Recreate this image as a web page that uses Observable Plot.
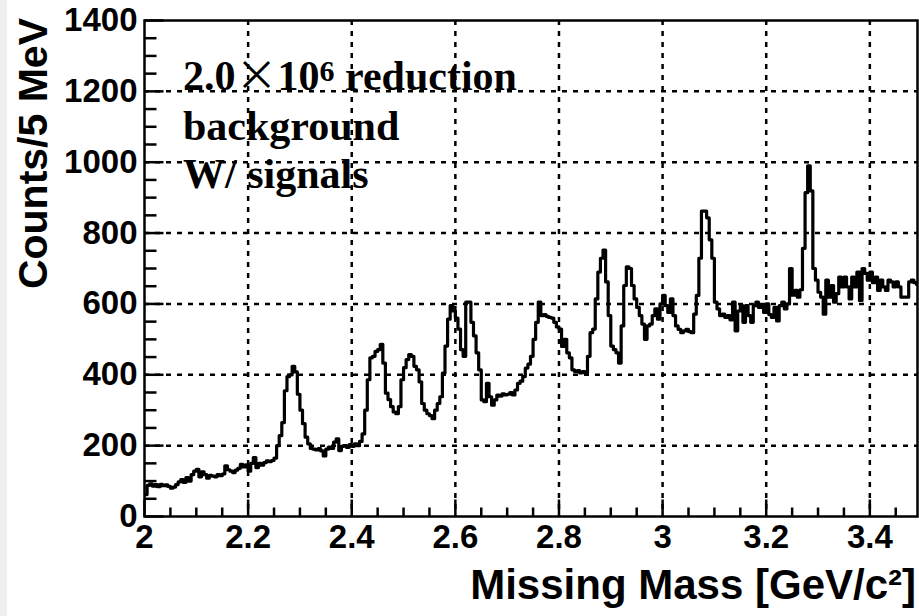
<!DOCTYPE html>
<html><head><meta charset="utf-8">
<script src="https://cdn.jsdelivr.net/npm/d3@7"></script>
<script src="https://cdn.jsdelivr.net/npm/@observablehq/plot@0.6"></script>
<style>
body{margin:0;background:#fff;}
#chart{position:relative;width:919px;height:616px;background:linear-gradient(to right,#efefef 0,#efefef 7px,#fff 7px);overflow:hidden}
#chart svg{display:block}
</style></head><body><div id="chart"></div>
<script>
// Histogram: 5 MeV bins starting at 2.000 GeV/c^2
const binStart = 2.0;
const binWidth = 0.005;
const counts = [
  62, 88, 92, 86, 90, 84, 91, 87, 89, 85,          // 2.00
  80, 83, 90, 98, 104, 96, 110, 100, 118, 128,     // 2.05
  133, 112, 126, 118, 108, 116, 114, 112, 118, 115,// 2.10
  120, 143, 132, 128, 124, 131, 136, 147, 140, 146,// 2.15
  128, 150, 166, 138, 150, 145, 152, 157, 155, 158,// 2.20
  165, 200, 228, 265, 355, 395, 400, 424, 408, 345,// 2.25
  300, 262, 224, 205, 192, 190, 188, 192, 185, 171,// 2.30
  190, 196, 192, 210, 219, 186, 198, 200, 195, 203,// 2.35
  198, 205, 200, 212, 233, 300, 386, 448, 452, 466,// 2.40
  471, 486, 433, 348, 330, 310, 295, 290, 310, 386,// 2.45
  420, 443, 457, 452, 424, 414, 380, 319, 300, 290,// 2.50
  285, 276, 300, 319, 338, 405, 481, 557, 595, 580,// 2.55
  560, 529, 471, 452, 605, 605, 548, 510, 462, 414,// 2.60
  329, 324, 376, 338, 314, 329, 343, 340, 346, 343,// 2.65
  345, 350, 343, 357, 376, 382, 395, 419, 430, 452,// 2.70
  500, 548, 605, 567, 570, 565, 562, 560, 548, 535,// 2.75
  529, 480, 500, 462, 448, 414, 409, 412, 405, 409,// 2.80
  405, 452, 519, 529, 614, 690, 729, 752, 662, 567,// 2.85
  481, 471, 462, 433, 538, 652, 705, 700, 652, 614,// 2.90
  590, 567, 543, 500, 538, 543, 567, 586, 557, 600,// 2.95
  624, 595, 576, 614, 567, 538, 528, 519, 524, 528,// 3.00
  522, 519, 571, 624, 729, 862, 862, 843, 781, 729,// 3.05
  605, 586, 567, 571, 562, 567, 555, 605, 524, 580,// 3.10
  595, 548, 595, 567, 548, 595, 605, 590, 595, 576,// 3.15
  600, 570, 562, 590, 552, 595, 605, 586, 600, 700,// 3.20
  625, 638, 619, 640, 757, 914, 990, 919, 700, 667,// 3.25
  633, 619, 571, 667, 619, 652, 605, 629, 676, 648,// 3.30
  676, 648, 614, 676, 648, 690, 610, 700, 686, 667,// 3.35
  690, 660, 676, 638, 667, 648, 638, 667, 662, 648,// 3.40
  662, 648, 619, 619, 619, 662, 667, 660, 655, 660 // 3.45
];

const xMajorTicks = [2, 2.2, 2.4, 2.6, 2.8, 3, 3.2, 3.4];
const xTickLabels = ["2", "2.2", "2.4", "2.6", "2.8", "3", "3.2", "3.4"];
const xMinorTicks = [2.05, 2.1, 2.15, 2.25, 2.3, 2.35, 2.45, 2.5, 2.55, 2.65, 2.7, 2.75,
                     2.85, 2.9, 2.95, 3.05, 3.1, 3.15, 3.25, 3.3, 3.35, 3.45];
const yMajorTicks = [0, 200, 400, 600, 800, 1000, 1200, 1400];
const yTickLabels = ["0", "200", "400", "600", "800", "1000", "1200", "1400"];
const yMinorTicks = [50, 100, 150, 250, 300, 350, 450, 500, 550, 650, 700, 750,
                     850, 900, 950, 1050, 1100, 1150, 1250, 1300, 1350];

const xLabel = "Missing Mass [GeV/c²]";
const yLabel = "Counts/5 MeV";
const annotationLines = ["background", "W/ signals"];

const pts = counts.map((c, i) => ({m: binStart + i * binWidth, c}));
pts.push({m: binStart + counts.length * binWidth, c: counts[counts.length - 1]});

const xLab = new Map(xMajorTicks.map((v, i) => [v, xTickLabels[i]]));
const yLab = new Map(yMajorTicks.map((v, i) => [v, yTickLabels[i]]));

const gridStyle = {stroke: "black", strokeOpacity: 1, strokeWidth: 2.5, strokeDasharray: "5,6"};
const tickFont = {fontSize: 33, fontWeight: "bold"};

// inward tick marks as short links, pixel lengths converted to data extents
const pxPerCount = 496 / 1400, pxPerGeV = 773 / 1.492;
const tickMarks = [
  ...xMinorTicks.map(v => ({x1: v, x2: v, y1: 0, y2: 9 / pxPerCount})),
  ...xMajorTicks.map(v => ({x1: v, x2: v, y1: 0, y2: 17 / pxPerCount})),
  ...yMinorTicks.map(v => ({x1: 2, x2: 2 + 12 / pxPerGeV, y1: v, y2: v})),
  ...yMajorTicks.map(v => ({x1: 2, x2: 2 + 19 / pxPerGeV, y1: v, y2: v}))
];

const plot = Plot.plot({
  width: 919, height: 616,
  marginLeft: 144, marginRight: 2, marginTop: 20, marginBottom: 100,
  style: {fontFamily: "'Liberation Sans', Arial, sans-serif", background: "transparent", color: "black", overflow: "visible"},
  x: {domain: [2, 3.492], label: null},
  y: {domain: [0, 1400], label: null},
  marks: [
    Plot.gridX(xMajorTicks.filter(d => d > 2), gridStyle),
    Plot.gridY(yMajorTicks.filter(d => d > 0 && d < 1400), gridStyle),
    Plot.line(pts, {x: "m", y: "c", curve: "step-after", stroke: "black", strokeWidth: 3.2, clip: true}),
    Plot.link(tickMarks, {x1: "x1", x2: "x2", y1: "y1", y2: "y2", stroke: "black", strokeWidth: 2.5}),
    Plot.axisX(xMajorTicks, {tickSize: 0, tickPadding: 8, tickFormat: d => xLab.get(d), label: null, ...tickFont}),
    Plot.axisY(yMajorTicks, {tickSize: 0, tickPadding: 7, tickFormat: d => yLab.get(d), label: null, ...tickFont}),
    Plot.frame({stroke: "black", strokeWidth: 2.5})
  ]
});

const svg = d3.select(plot);
// axis titles
svg.append("text")
  .attr("transform", "translate(47,18) rotate(-90)")
  .attr("text-anchor", "end")
  .attr("font-family", "'Liberation Sans', Arial, sans-serif")
  .attr("font-weight", "bold").attr("font-size", 41).attr("fill", "black")
  .text(yLabel);
svg.append("text")
  .attr("x", 916).attr("y", 599)
  .attr("text-anchor", "end")
  .attr("font-family", "'Liberation Sans', Arial, sans-serif")
  .attr("font-weight", "bold").attr("font-size", 42).attr("fill", "black")
  .text(xLabel);
// annotation
const ann = svg.append("text")
  .attr("text-anchor", "start")
  .attr("font-family", "'Liberation Serif', 'Times New Roman', serif")
  .attr("font-weight", "bold").attr("font-size", 42).attr("fill", "black");
const l1 = ann.append("tspan").attr("x", 183).attr("y", 90);
l1.append("tspan").text("2.0");
l1.append("tspan").attr("font-family", "'Noto Sans CJK JP', sans-serif").attr("font-weight", "normal").text("×");
l1.append("tspan").text("10");
l1.append("tspan").attr("font-size", 30).attr("dy", -9).text("6");
l1.append("tspan").attr("dy", 9).text(" reduction");
ann.append("tspan").attr("x", 183).attr("y", 140).text(annotationLines[0]);
ann.append("tspan").attr("x", 183).attr("y", 188).text(annotationLines[1]);

document.getElementById("chart").appendChild(plot);
</script>
</body></html>
